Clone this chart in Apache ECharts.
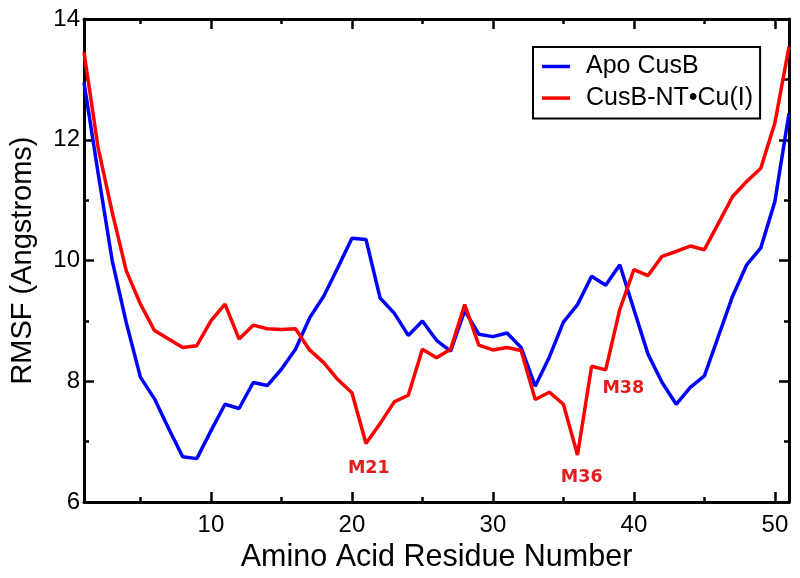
<!DOCTYPE html>
<html>
<head>
<meta charset="utf-8">
<script src="https://cdn.jsdelivr.net/npm/echarts@6/dist/echarts.min.js"></script>
<style>
  html, body { margin: 0; padding: 0; background: #ffffff; }
  #chart { width: 800px; height: 578px; }
</style>
</head>
<body>
<div id="chart"></div>
<script>
// Residue numbers (x)
const residues = [1,2,3,4,5,6,7,8,9,10,11,12,13,14,15,16,17,18,19,20,21,22,23,24,25,26,27,28,29,30,31,32,33,34,35,36,37,38,39,40,41,42,43,44,45,46,47,48,49,50,51];

// RMSF values (Angstroms)
const apoCusB = [12.95,11.45,10.0,8.97,8.07,7.71,7.22,6.75,6.72,7.18,
                 7.62,7.55,7.98,7.93,8.2,8.53,9.05,9.41,9.88,10.37,
                 10.35,9.38,9.13,8.76,9.0,8.68,8.5,9.17,8.78,8.74,
                 8.8,8.56,7.92,8.4,8.98,9.27,9.74,9.59,9.93,9.19,
                 8.45,7.98,7.62,7.9,8.09,8.75,9.41,9.93,10.21,10.98,12.44];
const cusBNTCu = [13.45,11.87,10.8,9.83,9.28,8.84,8.7,8.56,8.59,9.0,
                  9.28,8.7,8.93,8.87,8.86,8.87,8.52,8.31,8.03,7.81,
                  6.97,7.3,7.66,7.77,8.53,8.39,8.53,9.27,8.6,8.52,
                  8.56,8.51,7.7,7.82,7.62,6.78,8.25,8.19,9.19,9.85,
                  9.75,10.07,10.15,10.24,10.18,10.62,11.06,11.31,11.53,12.28,13.54];

const seriesNames = ['Apo CusB', 'CusB-NT\u2022Cu(I)'];

// Tick values
const xMajorTicks = [10,20,30,40,50];
const xMinorTicks = [5,15,25,35,45];

// Annotations (data coordinates)
const annotLabels = ['M21','M36','M38'];
const annotX = [21.2, 36.3, 39.25];
const annotY = [6.55, 6.4, 7.89];

const FONT = '"Liberation Sans", Arial, Helvetica, sans-serif';
const chart = echarts.init(document.getElementById('chart'), null, { renderer: 'canvas' });

function xAx(pos, ticks, len, showLine, showLabel, extra) {
  return Object.assign({
    type: 'value', min: 1, max: 51, position: pos, gridIndex: 0,
    axisLine: { show: showLine, onZero: false, lineStyle: { color: '#000', width: 3 } },
    axisTick: { show: true, inside: true, length: len, customValues: ticks, lineStyle: { color: '#000', width: 2.5 } },
    axisLabel: { show: showLabel, customValues: ticks, color: '#000', fontSize: 24, fontFamily: FONT, margin: 11 },
    splitLine: { show: false }
  }, extra || {});
}
function yAx(pos, showLabel, extra) {
  return Object.assign({
    type: 'value', min: 6, max: 14, interval: 2, position: pos, gridIndex: 0,
    axisLine: { show: true, onZero: false, lineStyle: { color: '#000', width: 3 } },
    axisTick: { show: true, inside: true, length: 10, lineStyle: { color: '#000', width: 2.5 } },
    minorTick: { show: true, splitNumber: 2, length: 5, lineStyle: { color: '#000', width: 2.5 } },
    axisLabel: { show: showLabel, color: '#000', fontSize: 24, fontFamily: FONT, margin: 4 },
    splitLine: { show: false },
    minorSplitLine: { show: false }
  }, extra || {});
}

const option = {
  backgroundColor: '#ffffff',
  animation: false,
  grid: { left: 82, right: 11, top: 19, bottom: 75, containLabel: false },
  legend: {
    data: seriesNames.map(n => ({ name: n, icon: 'rect' })),
    orient: 'vertical',
    left: 533, top: 47,
    padding: [7, 7, 8, 9],
    itemGap: 6.6,
    itemWidth: 28, itemHeight: 3.5,
    borderColor: '#000', borderWidth: 2,
    backgroundColor: '#fff',
    textStyle: { color: '#000', fontSize: 25, lineHeight: 25, fontFamily: FONT, padding: [0, 0, 0, 11] }
  },
  xAxis: [
    xAx('bottom', xMajorTicks, 10, true, true, {
      name: 'Amino Acid Residue Number', nameLocation: 'middle', nameGap: 34,
      nameTextStyle: { color: '#000', fontSize: 30.5, fontFamily: FONT }
    }),
    xAx('bottom', xMinorTicks, 5, false, false),
    xAx('top', xMajorTicks, 10, true, false),
    xAx('top', xMinorTicks, 5, false, false)
  ],
  yAxis: [
    yAx('left', true, {
      name: 'RMSF (Angstroms)', nameLocation: 'middle', nameGap: 47, nameRotate: 90,
      nameTextStyle: { color: '#000', fontSize: 29, fontFamily: FONT }
    }),
    yAx('right', false)
  ],
  series: [
    {
      name: seriesNames[0], type: 'line', xAxisIndex: 0, yAxisIndex: 0,
      symbol: 'none', color: '#0000ff',
      lineStyle: { color: '#0000ff', width: 3.5 },
      data: residues.map((r, i) => [r, apoCusB[i]]),
      z: 3
    },
    {
      name: seriesNames[1], type: 'line', xAxisIndex: 0, yAxisIndex: 0,
      symbol: 'none', color: '#ff0000',
      lineStyle: { color: '#ff0000', width: 3.5 },
      data: residues.map((r, i) => [r, cusBNTCu[i]]),
      z: 4
    },
    {
      name: 'annotations', type: 'scatter', xAxisIndex: 0, yAxisIndex: 0,
      symbolSize: 0, silent: true,
      itemStyle: { opacity: 1 },
      label: {
        show: true, position: 'inside', formatter: '{b}', opacity: 1,
        color: '#e41c1c', fontSize: 17.5, fontWeight: 'bold', fontFamily: '"DejaVu Sans", sans-serif'
      },
      data: annotLabels.map((t, i) => ({ name: t, value: [annotX[i], annotY[i]] })),
      z: 5
    }
  ]
};
chart.setOption(option);
</script>
</body>
</html>
